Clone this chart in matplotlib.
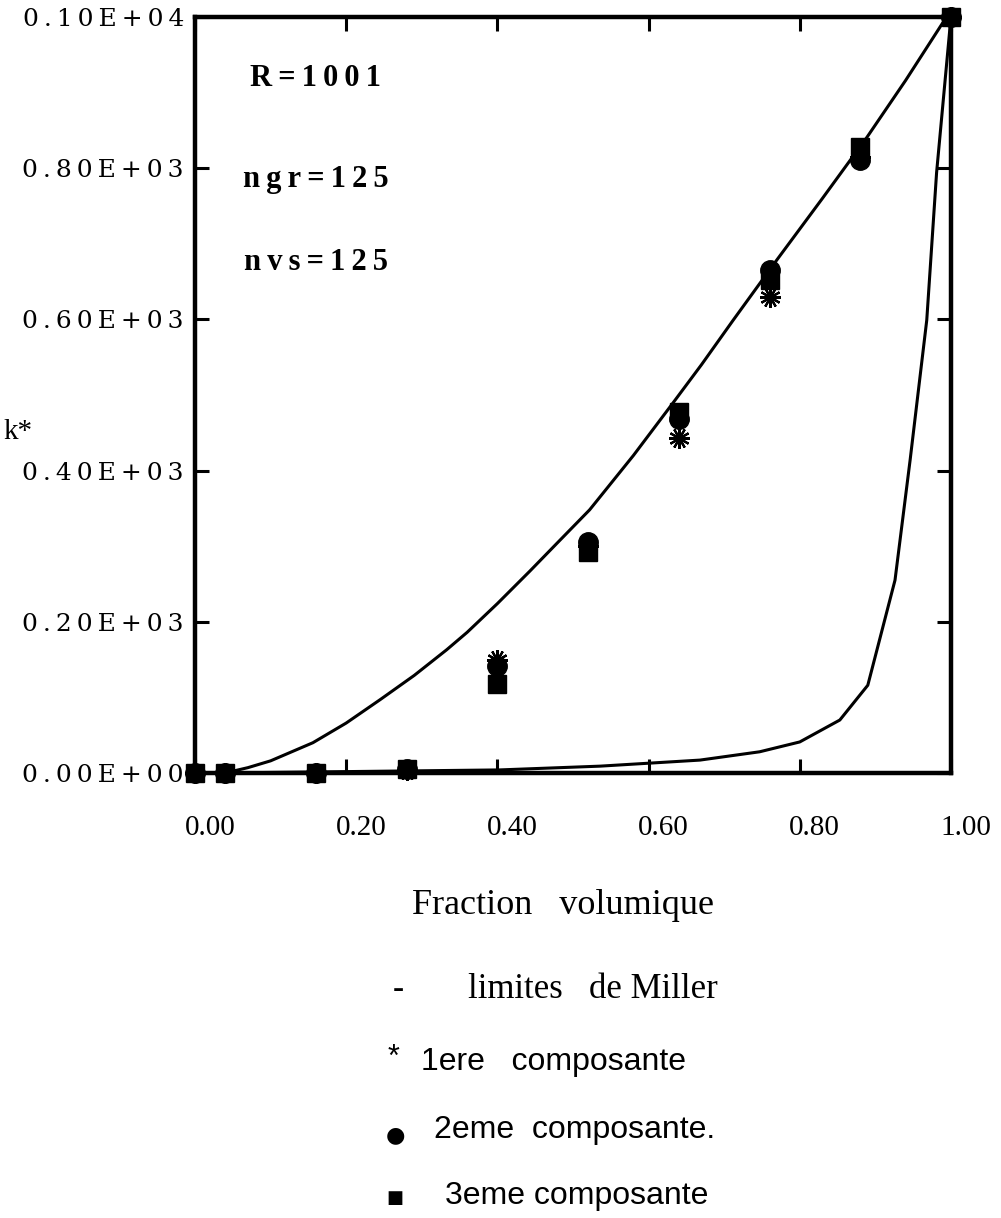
import matplotlib
matplotlib.use('Agg')
import matplotlib.pyplot as plt
from matplotlib.transforms import ScaledTranslation

# volume fractions of the simulated points
frac = [0.0, 0.04, 0.16, 0.28, 0.40, 0.52, 0.64, 0.76, 0.88, 1.0]
k_comp1 = [0, 0, 0, 4, 150, 300, 443, 630, 815, 1000]
k_comp2 = [0, 0, 0, 5, 142, 306, 468, 665, 811, 1000]
k_comp3 = [0, 0, 0, 5, 117, 292, 478, 652, 828, 1000]

# Miller bounds
up_x = [0.04, 0.07, 0.10, 0.156, 0.20, 0.245, 0.29, 0.333, 0.36, 0.40, 0.443, 0.48,
        0.522, 0.58, 0.632, 0.67, 0.712, 0.77, 0.83, 0.889, 0.94, 0.989, 1.0]
up_k = [0, 7, 16, 40, 66, 97, 129, 163, 186, 224, 267, 305,
        348, 420, 489, 540, 599, 679, 760, 841, 916, 992, 1000]
lo_x = [0.04, 0.403, 0.536, 0.668, 0.747, 0.80, 0.853, 0.89, 0.926, 0.946, 0.968, 0.981, 1.0]
lo_k = [0, 4, 9, 17, 28, 41, 70, 116, 255, 414, 599, 794, 1000]

xticks = [0.0, 0.2, 0.4, 0.6, 0.8, 1.0]
xlabels = ['0.00', '0.20', '0.40', '0.60', '0.80', '1.00']
yticks = [0, 200, 400, 600, 800, 1000]
ylabels = ['0.00E+00', '0.20E+03', '0.40E+03', '0.60E+03', '0.80E+03', '0.10E+04']

SERIF = ['Liberation Serif', 'DejaVu Serif']
SANS = ['Liberation Sans', 'DejaVu Sans']
TS = '\u2009'  # thin space, the scan has wide letter spacing


def spaced(s):
    return TS.join(s)


fig = plt.figure(figsize=(10.01, 12.18), dpi=100)
ax = fig.add_axes([0.1948, 0.3654, 0.7552, 0.6207])

ax.plot(up_x, up_k, color='black', lw=2.2, zorder=2)
ax.plot(lo_x, lo_k, color='black', lw=2.2, zorder=2)

ax.plot(frac, k_comp1, ls='none', marker=(12, 2, 0), ms=15, mec='black', mew=1.6, zorder=3)
ax.plot(frac, k_comp2, ls='none', marker='o', ms=14, mfc='black', mec='black', zorder=4)
ax.plot(frac, k_comp3, ls='none', marker='s', ms=13, mfc='black', mec='black', zorder=5)

ax.set_xlim(0, 1)
ax.set_ylim(0, 1000)
ax.set_xticks(xticks)
ax.set_xticklabels(xlabels, family=SERIF, fontsize=21)
ax.set_yticks(yticks)
ax.set_yticklabels([spaced(l) for l in ylabels], family=['DejaVu Serif'], fontsize=18)
ax.tick_params(direction='in', length=10, width=2.2, top=True, right=True)
ax.tick_params(axis='x', pad=30)
ax.tick_params(axis='y', pad=8)
# the printed x labels sit a little right of their ticks
shift = ScaledTranslation(0.15, 0, fig.dpi_scale_trans)
for lab in ax.get_xticklabels():
    lab.set_transform(lab.get_transform() + shift)
for s in ax.spines.values():
    s.set_linewidth(3.2)
for ln in ax.lines:
    ln.set_clip_on(False)

# annotations inside the plot
for txt, y in [('R=1001', 78), ('ngr=125', 180), ('nvs=125', 263)]:
    fig.text(316 / 1001, 1 - y / 1218, spaced(txt), ha='center', va='center',
             family=SERIF, fontsize=22, fontweight='bold')

fig.text(18 / 1001, 1 - 432 / 1218, 'k*', ha='center', va='center',
         family=SERIF, fontsize=21)
fig.text(563 / 1001, 1 - 905 / 1218, 'Fraction   volumique', ha='center', va='center',
         family=SERIF, fontsize=26)

# hand-written key below the chart
fig.text(398 / 1001, 1 - 990 / 1218, '-', ha='center', va='center', family=SERIF, fontsize=24)
fig.text(468 / 1001, 1 - 990 / 1218, 'limites   de Miller', ha='left', va='center',
         family=SERIF, fontsize=25)
fig.text(393 / 1001, 1 - 1058 / 1218, '*', ha='center', va='center', family=SANS, fontsize=22)
fig.text(421 / 1001, 1 - 1062 / 1218, '1ere   composante', ha='left', va='center',
         family=SANS, fontsize=23)
fig.text(395 / 1001, 1 - 1135 / 1218, '\u25cf', ha='center', va='center',
         family='DejaVu Sans', fontsize=16)
fig.text(434 / 1001, 1 - 1130 / 1218, '2eme  composante.', ha='left', va='center',
         family=SANS, fontsize=23)
fig.text(395 / 1001, 1 - 1198 / 1218, '\u25a0', ha='center', va='center',
         family='DejaVu Sans', fontsize=13)
fig.text(445 / 1001, 1 - 1196 / 1218, '3eme composante', ha='left', va='center',
         family=SANS, fontsize=23)

fig.savefig('out.png', dpi=100, facecolor='white')
